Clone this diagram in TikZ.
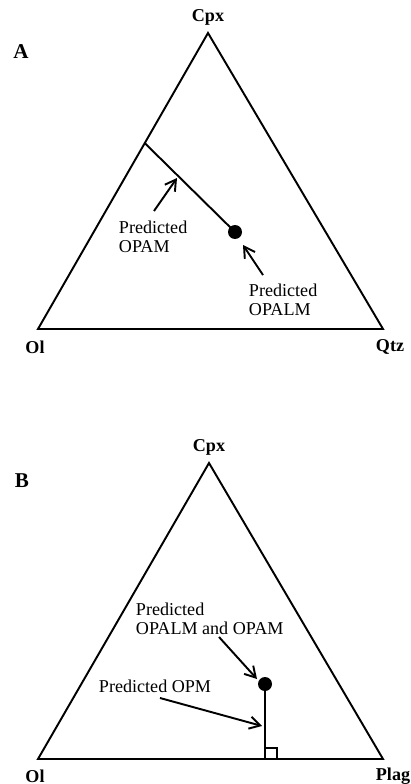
\documentclass[tikz,border=0pt]{standalone}
\usepackage{fontspec}
\setmainfont{Liberation Serif}
\usetikzlibrary{arrows.meta, positioning, calc}

\begin{document}
\begin{tikzpicture}[x=0.02cm, y=-0.02cm, line width=1.1pt,
    corner/.style={font=\fontsize{10.3}{12}\selectfont\bfseries, inner sep=0pt},
    panel/.style={font=\fontsize{12}{14}\selectfont\bfseries, inner sep=0pt},
    lbl/.style={align=left, inner sep=0pt, anchor=north west,
        font=\fontsize{10.3}{11}\selectfont},
    pointer/.style={-{Straight Barb[length=6pt,width=7pt]}, line width=1.1pt},
    datum/.style={circle, fill=black, inner sep=0pt, minimum size=0.28cm}]
    \useasboundingbox (0,0) rectangle (411,784);

    % A: Ol - Cpx - Qtz
    \coordinate (aol) at (38,329);
    \coordinate (acpx) at (208,33);
    \coordinate (aqtz) at (383,329);
    \draw[line join=miter] (aol) -- (acpx) -- (aqtz) -- cycle;
    \node[panel] (tA) at (21,52) {A};
    \node[corner] (tacpx) at (208,17) {Cpx};
    \node[corner] (taol) at (35,347) {Ol};
    \node[corner] (taqtz) at (390,347) {Qtz};

    \coordinate (aedge) at ($(aol)!0.628!(acpx)$);
    \node[datum] (adot) at (235,232) {};
    \draw (aedge) -- (adot.center);

    \node[lbl] (opam) at (118,220) {Predicted\\OPAM};
    \coordinate (opamtail) at (154,211);
    \coordinate (opamtip) at (177,178);
    \draw[pointer] (opamtail) -- (opamtip);

    \node[lbl] (opalm) at (248,283) {Predicted\\OPALM};
    \coordinate (opalmtail) at (263,275);
    \coordinate (opalmtip) at (243,245);
    \draw[pointer] (opalmtail) -- (opalmtip);

    % B: Ol - Cpx - Plag
    \coordinate (bol) at (38,759);
    \coordinate (bcpx) at (209,463);
    \coordinate (bplag) at (383,759);
    \draw[line join=miter] (bol) -- (bcpx) -- (bplag) -- cycle;
    \node[panel] (tB) at (22,481) {B};
    \node[corner] (tbcpx) at (209,447) {Cpx};
    \node[corner] (tbol) at (35,776) {Ol};
    \node[corner] (tbplag) at (393,776) {Plag};

    \node[datum] (bdot) at (265,684) {};
    \coordinate (bfoot) at ($(bol)!(bdot)!(bplag)$);
    \draw (bdot.center) -- (bfoot);
    \draw[line width=0.8pt] (bfoot) rectangle ++(12,-11);

    \node[lbl] (both) at (135,602) {Predicted\\OPALM and OPAM};
    \coordinate (bothtail) at (219,637);
    \coordinate (bothtip) at (257,679);
    \draw[pointer] (bothtail) -- (bothtip);

    \node[lbl] (opm) at (98,679) {Predicted OPM};
    \coordinate (opmtail) at (160,698);
    \coordinate (opmtip) at (262,726);
    \draw[pointer] (opmtail) -- (opmtip);
\end{tikzpicture}
\end{document}
